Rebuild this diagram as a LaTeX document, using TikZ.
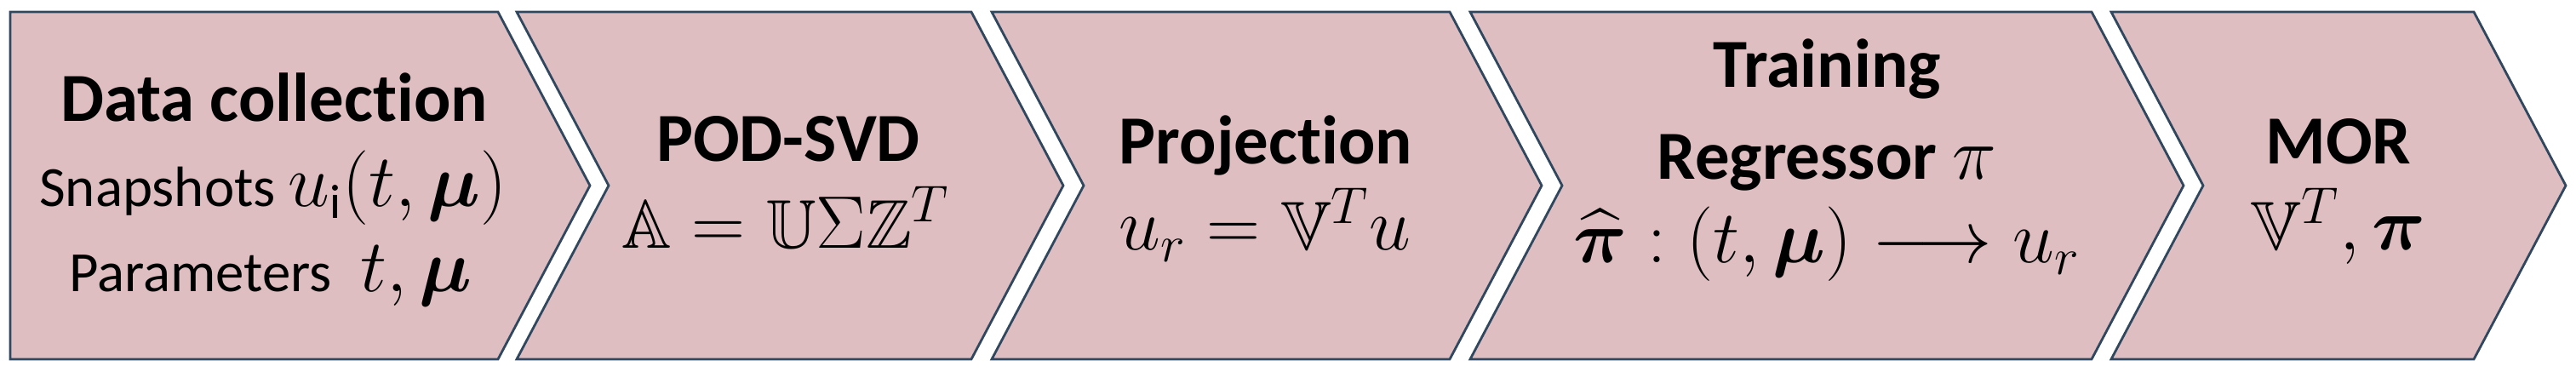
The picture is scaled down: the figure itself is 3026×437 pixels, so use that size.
\documentclass[tikz,border=0pt]{standalone}
\usepackage{fontspec}
\setmainfont{Carlito}[Ligatures=NoCommon]
\usepackage{amsmath,amssymb,bm}

\definecolor{stepfill}{RGB}{222,190,192}
\definecolor{stepline}{RGB}{47,72,96}

\newcommand{\mth}[1]{{\fontsize{23}{23}\selectfont$#1$}}

\begin{document}
\begin{tikzpicture}[x=0.01cm,y=-0.01cm,
   chev/.style={fill=stepfill,draw=stepline,line width=0.8pt,line join=miter},
   ttl/.style={anchor=base,inner sep=0pt,font=\fontsize{23}{23}\selectfont\bfseries},
   txt/.style={anchor=base,inner sep=0pt,font=\fontsize{19}{19}\selectfont},
   frm/.style={anchor=base,inner sep=0pt,font=\fontsize{23}{23}\selectfont}]

 \useasboundingbox (0,0) rectangle (3026,437);

 % first step has a flat back
 \draw[chev] (12,14) -- (585,14) -- (693,218) -- (585,422) -- (12,422) -- cycle;
 % the other steps
 \foreach \l/\r in {607/1141,1165/1703,1727/2457,2480/2906}{%
     \draw[chev] (\l,14) -- (\r,14) -- ({\r+108},218) -- (\r,422) -- (\l,422) -- ({\l+108},218) -- cycle;
 }

 \node[ttl] (data) at (322,143) {Data collection};
 \node[txt] (snap) at (321,243) {Snapshots \mth{u_{\mathrm{i}}(t,\bm{\mu})}};
 \node[txt] (para) at (318,343) {Parameters\enspace\mth{t,\bm{\mu}}};

 \node[ttl] (pod) at (926,190) {POD-SVD};
 \node[frm] (svd) at (923,292) {$\mathbb{A}=\mathbb{U}\Sigma\mathbb{Z}^T$};

 \node[ttl] (proj) at (1487,193) {Projection};
 \node[frm] (red) at (1486,294) {$u_r=\mathbb{V}^T u$};

 \node[ttl] (train) at (2146,103) {Training};
 \node[ttl] (regr) at (2146,211) {Regressor \mth{\pi}};
 \node[frm] (map) at (2146,309) {$\widehat{\bm{\pi}}:(t,\bm{\mu})\longrightarrow u_r$};

 \node[ttl] (mor) at (2747,193) {MOR};
 \node[frm] (rom) at (2747,294) {$\mathbb{V}^T,\bm{\pi}$};

\end{tikzpicture}
\end{document}
